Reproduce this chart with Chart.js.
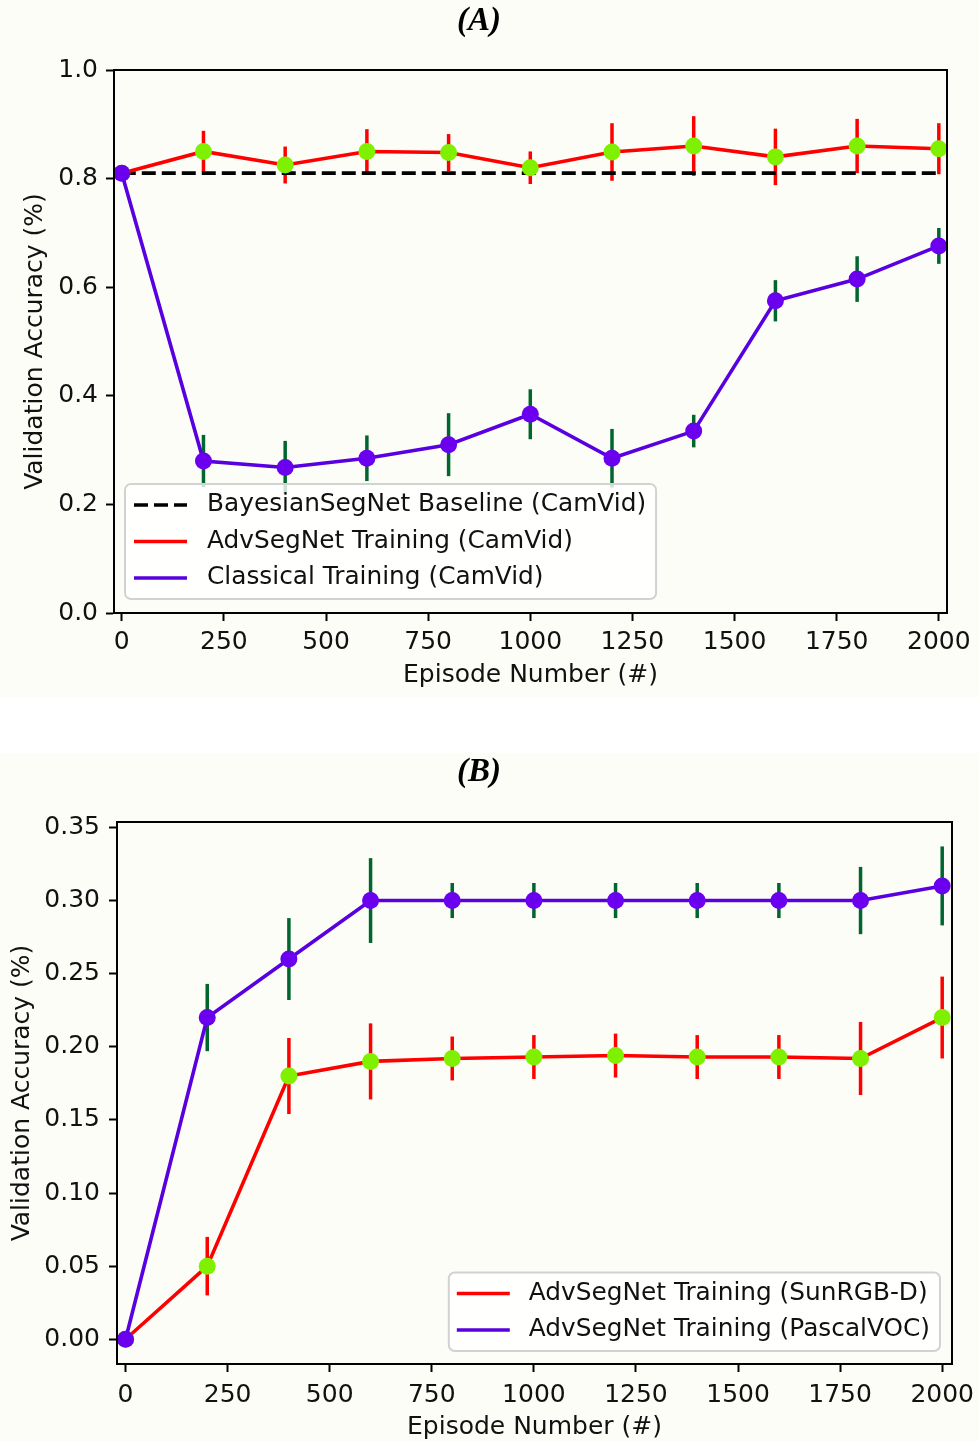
<!DOCTYPE html>
<html>
<head>
<meta charset="utf-8">
<script src="https://cdn.jsdelivr.net/npm/chart.js@4/dist/chart.umd.min.js"></script>
<style>
    body { margin: 0; background: #ffffff; width: 979px; height: 1441px; position: relative; overflow: hidden; }
    canvas { position: absolute; left: 0; background: #fdfdf8; }
    #chartA { top: 0; }
    #chartB { top: 753px; }
    .title { position: absolute; left: 0; width: 958px; text-align: center; line-height: 38px;
             font: bold italic 33px "Liberation Serif", "Times New Roman", serif; color: #000; z-index: 2; }
</style>
</head>
<body>
<div class="title" style="top: 1px;">(A)</div>
<div class="title" style="top: 752px;">(B)</div>
<canvas id="chartA" width="979" height="697"></canvas>
<canvas id="chartB" width="979" height="688"></canvas>
<script>
// Episodes shared by both panels.
var episodes = [0, 200, 400, 600, 800, 1000, 1200, 1400, 1600, 1800, 2000];
var xTicks = [0, 250, 500, 750, 1000, 1250, 1500, 1750, 2000];

// Panel (A): CamVid
var baselineCamVid = [0.81, 0.81, 0.81, 0.81, 0.81, 0.81, 0.81, 0.81, 0.81, 0.81, 0.81];
var advCamVid = [0.81, 0.85, 0.825, 0.85, 0.848, 0.82, 0.849, 0.86, 0.84, 0.86, 0.855];
var advCamVidErr = [0, 0.038, 0.034, 0.041, 0.034, 0.030, 0.053, 0.055, 0.052, 0.050, 0.047];
var classicCamVid = [0.81, 0.28, 0.268, 0.285, 0.31, 0.366, 0.285, 0.335, 0.575, 0.615, 0.676];
var classicCamVidErr = [0, 0.048, 0.049, 0.042, 0.058, 0.046, 0.054, 0.030, 0.038, 0.042, 0.033];
var yTicksA = [0, 0.2, 0.4, 0.6, 0.8, 1.0];

// Panel (B): SunRGB-D and PascalVOC
var advSunRgbd = [0, 0.05, 0.18, 0.19, 0.192, 0.193, 0.194, 0.193, 0.193, 0.192, 0.22];
var advSunRgbdErr = [0, 0.02, 0.026, 0.026, 0.015, 0.015, 0.015, 0.015, 0.015, 0.025, 0.028];
var advPascalVoc = [0, 0.22, 0.26, 0.30, 0.30, 0.30, 0.30, 0.30, 0.30, 0.30, 0.31];
var advPascalVocErr = [0, 0.023, 0.028, 0.029, 0.012, 0.012, 0.012, 0.012, 0.012, 0.023, 0.027];
var yTicksB = [0, 0.05, 0.10, 0.15, 0.20, 0.25, 0.30, 0.35];

var RED = '#ff0000';
var PURPLE_LINE = '#5800e0';
var PURPLE_DOT = '#6a00ee';
var GREEN_DOT = '#7ff000';
var GREEN_BAR = '#00662e';
var FONT_SIZE = 25;

Chart.defaults.font.family = '"DejaVu Sans", sans-serif';
Chart.defaults.font.size = FONT_SIZE;
Chart.defaults.color = '#111';

// Builds a line dataset with markers and its error values.
function serie(label, values, errors, lineColor, dotColor, barColor, order) {
    return {
        label: label,
        data: episodes.map(function (ep, i) { return { x: ep, y: values[i] }; }),
        errors: errors,
        errorColor: barColor,
        borderColor: lineColor,
        backgroundColor: lineColor,
        borderWidth: 3.6,
        pointRadius: 8.5,
        pointHoverRadius: 8.5,
        pointBackgroundColor: dotColor,
        pointBorderColor: dotColor,
        pointBorderWidth: 0,
        order: order,
        clip: false,
        tension: 0
    };
}

// Vertical error bars without caps, under the lines.
var errorBars = {
    id: 'errorBars',
    beforeDatasetsDraw: function (chart) {
        var ctx = chart.ctx;
        var xs = chart.scales.x, ys = chart.scales.y;
        chart.data.datasets.forEach(function (ds) {
            if (!ds.errors) return;
            ctx.save();
            ctx.strokeStyle = ds.errorColor;
            ctx.lineWidth = 3.5;
            ds.data.forEach(function (p, i) {
                var e = ds.errors[i];
                if (!e) return;
                var px = xs.getPixelForValue(p.x);
                ctx.beginPath();
                ctx.moveTo(px, ys.getPixelForValue(p.y - e));
                ctx.lineTo(px, ys.getPixelForValue(p.y + e));
                ctx.stroke();
            });
            ctx.restore();
        });
    }
};

// Box around the plot and the legend inside it.
var frameAndLegend = {
    id: 'frameAndLegend',
    afterDatasetsDraw: function (chart, args, opts) {
        var ctx = chart.ctx, a = chart.chartArea;
        ctx.save();
        ctx.strokeStyle = '#000';
        ctx.lineWidth = 2;
        ctx.strokeRect(a.left, a.top, a.right - a.left, a.bottom - a.top);

        ctx.font = opts.fontSize + 'px "DejaVu Sans", sans-serif';
        var items = opts.items.map(function (i) { return chart.data.datasets[i]; });
        var textW = Math.max.apply(null, items.map(function (d) { return ctx.measureText(d.label).width; }));
        var w = opts.textX + textW + opts.padRight;
        var h = opts.padY * 2 + opts.rowH * (items.length - 1);
        var left = opts.corner === 'left' ? a.left + opts.dx : a.right - opts.dx - w;
        var top = a.bottom - opts.dy - h;

        ctx.beginPath();
        ctx.roundRect(left, top, w, h, 6);
        ctx.fillStyle = 'rgba(255,255,255,0.8)';
        ctx.fill();
        ctx.strokeStyle = '#d2d2d2';
        ctx.lineWidth = 2;
        ctx.stroke();

        items.forEach(function (d, k) {
            var y = top + opts.padY + k * opts.rowH;
            ctx.beginPath();
            ctx.setLineDash(d.borderDash || []);
            ctx.strokeStyle = d.borderColor;
            ctx.lineWidth = 3.6;
            ctx.moveTo(left + opts.lineX0, y);
            ctx.lineTo(left + opts.lineX1, y);
            ctx.stroke();
            ctx.setLineDash([]);
            ctx.fillStyle = '#111';
            ctx.textBaseline = 'middle';
            ctx.textAlign = 'left';
            ctx.fillText(d.label, left + opts.textX, y);
        });
        ctx.restore();
    }
};

function axisOptions(p) {
    return {
        x: {
            type: 'linear',
            min: p.xMin,
            max: p.xMax,
            afterBuildTicks: function (scale) {
                scale.ticks = xTicks.map(function (v) { return { value: v }; });
            },
            afterFit: function (scale) {
                scale.height = p.xHeight;
                scale.paddingLeft = 0;
                scale.paddingRight = 0;
            },
            ticks: { padding: p.xPad, callback: function (v) { return String(v); } },
            grid: { drawOnChartArea: false, drawTicks: true, tickLength: 8, tickWidth: 2, tickColor: '#000' },
            border: { display: true, color: '#000', width: 2 },
            title: { display: true, text: 'Episode Number (#)', padding: { top: 0, bottom: p.xTitlePad } }
        },
        y: {
            type: 'linear',
            min: p.yMin,
            max: p.yMax,
            afterBuildTicks: function (scale) {
                scale.ticks = p.yTicks.map(function (v) { return { value: v }; });
            },
            afterFit: function (scale) {
                scale.width = p.yWidth;
                scale.paddingTop = 0;
                scale.paddingBottom = 0;
            },
            ticks: { padding: p.yPad, callback: function (v) { return v.toFixed(p.decimals); } },
            grid: { drawOnChartArea: false, drawTicks: true, tickLength: 8, tickWidth: 2, tickColor: '#000' },
            border: { display: true, color: '#000', width: 2 },
            title: { display: true, text: 'Validation Accuracy (%)', padding: { top: p.yTitlePad, bottom: 0 } }
        }
    };
}

// Panel (A)
var baselineA = {
    label: 'BayesianSegNet Baseline (CamVid)',
    data: episodes.map(function (ep, i) { return { x: ep, y: baselineCamVid[i] }; }),
    borderColor: '#000',
    backgroundColor: '#000',
    borderWidth: 3.6,
    borderDash: [14, 6],
    pointRadius: 0,
    order: 3,
    clip: false
};

new Chart(document.getElementById('chartA'), {
    type: 'line',
    data: {
        datasets: [
            baselineA,
            serie('AdvSegNet Training (CamVid)', advCamVid, advCamVidErr, RED, GREEN_DOT, RED, 2),
            serie('Classical Training (CamVid)', classicCamVid, classicCamVidErr, PURPLE_LINE, PURPLE_DOT, GREEN_BAR, 1)
        ]
    },
    options: {
        responsive: false,
        animation: false,
        layout: { padding: { top: 70, right: 32, left: 0, bottom: 0 } },
        scales: axisOptions({
            xMin: -19, xMax: 2020, yMin: 0, yMax: 1.0, yTicks: yTicksA, decimals: 1,
            xHeight: 84, yWidth: 114, xPad: 6, yPad: 8, xTitlePad: 6.5, yTitlePad: 20
        }),
        plugins: {
            legend: { display: false },
            tooltip: { enabled: false },
            frameAndLegend: {
                items: [0, 1, 2], corner: 'left', dx: 11, dy: 14, fontSize: 24.8,
                padY: 21, rowH: 36.5, lineX0: 9, lineX1: 62, textX: 82, padRight: 10
            }
        }
    },
    plugins: [errorBars, frameAndLegend]
});

// Panel (B)
new Chart(document.getElementById('chartB'), {
    type: 'line',
    data: {
        datasets: [
            serie('AdvSegNet Training (SunRGB-D)', advSunRgbd, advSunRgbdErr, RED, GREEN_DOT, RED, 2),
            serie('AdvSegNet Training (PascalVOC)', advPascalVoc, advPascalVocErr, PURPLE_LINE, PURPLE_DOT, GREEN_BAR, 1)
        ]
    },
    options: {
        responsive: false,
        animation: false,
        layout: { padding: { top: 69, right: 27, left: 0, bottom: 0 } },
        scales: axisOptions({
            xMin: -21, xMax: 2024, yMin: -0.0169, yMax: 0.3537, yTicks: yTicksB, decimals: 2,
            xHeight: 77, yWidth: 117, xPad: 8.5, yPad: 9, xTitlePad: -1.5, yTitlePad: 7
        }),
        plugins: {
            legend: { display: false },
            tooltip: { enabled: false },
            frameAndLegend: {
                items: [0, 1], corner: 'right', dx: 12, dy: 13, fontSize: 24.8,
                padY: 21, rowH: 36.5, lineX0: 8, lineX1: 61, textX: 80, padRight: 10
            }
        }
    },
    plugins: [errorBars, frameAndLegend]
});
</script>
</body>
</html>
